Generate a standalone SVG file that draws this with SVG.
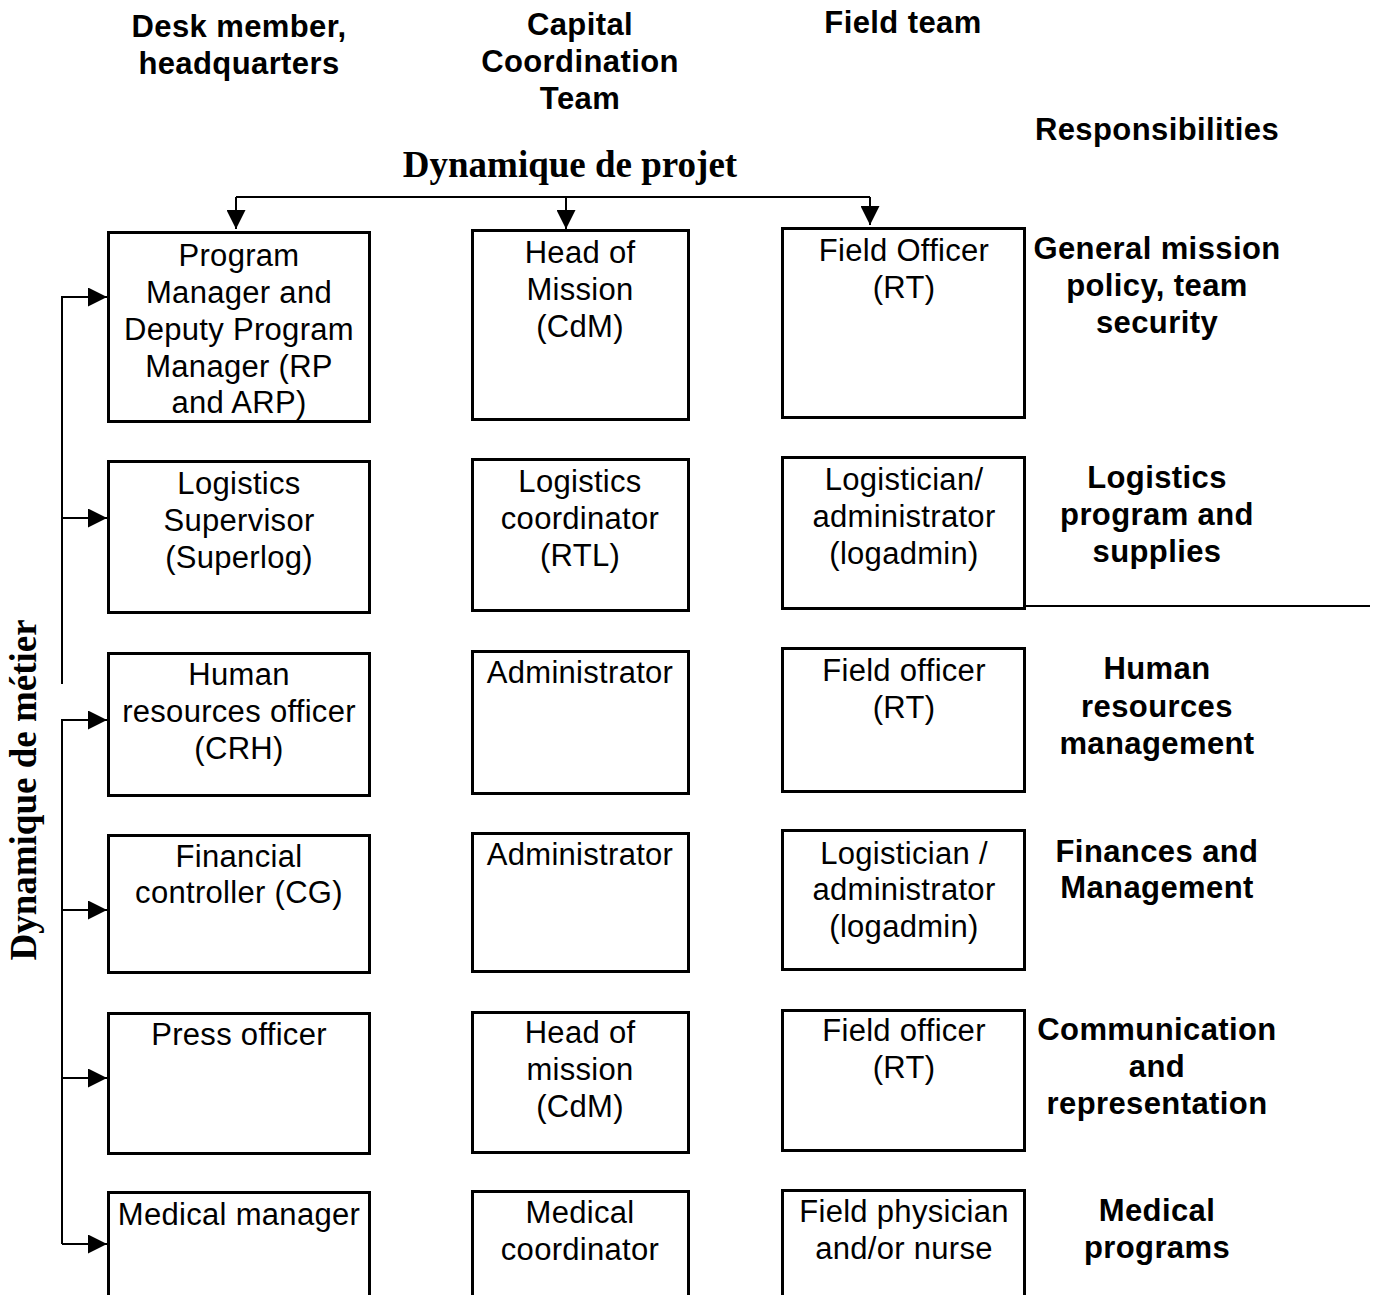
<svg xmlns="http://www.w3.org/2000/svg" width="1375" height="1295" viewBox="0 0 1375 1295">
<style>
.box{fill:#fff;stroke:#000;stroke-width:3}
.t{font-family:"Liberation Sans",Arial,sans-serif;font-size:31px;letter-spacing:0.3px;text-anchor:middle;fill:#000}
.h{font-family:"Liberation Sans",Arial,sans-serif;font-size:31px;letter-spacing:0.4px;font-weight:bold;text-anchor:middle;fill:#000}
.s{font-family:"Liberation Serif","Times New Roman",serif;font-size:37px;font-weight:bold;text-anchor:middle;fill:#000}
.ln{fill:none;stroke:#000;stroke-width:2}
</style>
<defs>
<marker id="ah" viewBox="0 0 10 10" refX="10" refY="5" markerWidth="20" markerHeight="19" markerUnits="userSpaceOnUse" orient="auto">
<path d="M0,0 L10,5 L0,10 z" fill="#000"/>
</marker>
</defs>
<g id="headers">
<text class="h" x="239" y="37">Desk member,</text>
<text class="h" x="239" y="74">headquarters</text>
<text class="h" x="580" y="35">Capital</text>
<text class="h" x="580" y="72">Coordination</text>
<text class="h" x="580" y="109">Team</text>
<text class="h" x="903" y="33">Field team</text>
<text class="h" x="1157" y="140">Responsibilities</text>
<text class="s" x="570" y="177">Dynamique de projet</text>
<text class="s" transform="translate(36,790) rotate(-90)" x="0" y="0">Dynamique de métier</text>
</g>
<g id="connectors">
<path class="ln" d="M236,197 H870"/>
<path class="ln" d="M236,197 V229" marker-end="url(#ah)"/>
<path class="ln" d="M566,197 V229" marker-end="url(#ah)"/>
<path class="ln" d="M870,197 V225" marker-end="url(#ah)"/>
<path class="ln" d="M62,684 V297 H107" marker-end="url(#ah)"/>
<path class="ln" d="M62,518 H107" marker-end="url(#ah)"/>
<path class="ln" d="M62,1244 V720 H107" marker-end="url(#ah)"/>
<path class="ln" d="M62,910 H107" marker-end="url(#ah)"/>
<path class="ln" d="M62,1078 H107" marker-end="url(#ah)"/>
<path class="ln" d="M62,1244 H107" marker-end="url(#ah)"/>
<path class="ln" d="M1025,606 H1370"/>
</g>
<g id="n-rp"><rect class="box" x="108.5" y="232.5" width="261" height="189"/>
<text class="t" x="239" y="266">Program</text><text class="t" x="239" y="303">Manager and</text><text class="t" x="239" y="340">Deputy Program</text><text class="t" x="239" y="377">Manager (RP</text><text class="t" x="239" y="413">and ARP)</text></g>
<g id="n-cdm1"><rect class="box" x="472.5" y="230.5" width="216" height="189"/>
<text class="t" x="580" y="263">Head of</text><text class="t" x="580" y="300">Mission</text><text class="t" x="580" y="337">(CdM)</text></g>
<g id="n-rt1"><rect class="box" x="782.5" y="228.5" width="242" height="189"/>
<text class="t" x="904" y="261">Field Officer</text><text class="t" x="904" y="298">(RT)</text></g>
<g id="r-general"><text class="h" x="1157" y="259">General mission</text><text class="h" x="1157" y="296">policy, team</text><text class="h" x="1157" y="333">security</text></g>

<g id="n-superlog"><rect class="box" x="108.5" y="461.5" width="261" height="151"/>
<text class="t" x="239" y="494">Logistics</text><text class="t" x="239" y="531">Supervisor</text><text class="t" x="239" y="568">(Superlog)</text></g>
<g id="n-rtl"><rect class="box" x="472.5" y="459.5" width="216" height="151"/>
<text class="t" x="580" y="492">Logistics</text><text class="t" x="580" y="529">coordinator</text><text class="t" x="580" y="566">(RTL)</text></g>
<g id="n-logadmin1"><rect class="box" x="782.5" y="457.5" width="242" height="151"/>
<text class="t" x="904" y="490">Logistician/</text><text class="t" x="904" y="527">administrator</text><text class="t" x="904" y="564">(logadmin)</text></g>
<g id="r-logistics"><text class="h" x="1157" y="488">Logistics</text><text class="h" x="1157" y="525">program and</text><text class="h" x="1157" y="562">supplies</text></g>

<g id="n-crh"><rect class="box" x="108.5" y="653.5" width="261" height="142"/>
<text class="t" x="239" y="685">Human</text><text class="t" x="239" y="722">resources officer</text><text class="t" x="239" y="759">(CRH)</text></g>
<g id="n-admin1"><rect class="box" x="472.5" y="651.5" width="216" height="142"/>
<text class="t" x="580" y="683">Administrator</text></g>
<g id="n-rt2"><rect class="box" x="782.5" y="648.5" width="242" height="143"/>
<text class="t" x="904" y="681">Field officer</text><text class="t" x="904" y="718">(RT)</text></g>
<g id="r-hr"><text class="h" x="1157" y="679">Human</text><text class="h" x="1157" y="717">resources</text><text class="h" x="1157" y="754">management</text></g>

<g id="n-cg"><rect class="box" x="108.5" y="835.5" width="261" height="137"/>
<text class="t" x="239" y="867">Financial</text><text class="t" x="239" y="903">controller (CG)</text></g>
<g id="n-admin2"><rect class="box" x="472.5" y="833.5" width="216" height="138"/>
<text class="t" x="580" y="865">Administrator</text></g>
<g id="n-logadmin2"><rect class="box" x="782.5" y="830.5" width="242" height="139"/>
<text class="t" x="904" y="864">Logistician /</text><text class="t" x="904" y="900">administrator</text><text class="t" x="904" y="937">(logadmin)</text></g>
<g id="r-fin"><text class="h" x="1157" y="862">Finances and</text><text class="h" x="1157" y="898">Management</text></g>

<g id="n-press"><rect class="box" x="108.5" y="1013.5" width="261" height="140"/>
<text class="t" x="239" y="1045">Press officer</text></g>
<g id="n-cdm2"><rect class="box" x="472.5" y="1012.5" width="216" height="140"/>
<text class="t" x="580" y="1043">Head of</text><text class="t" x="580" y="1080">mission</text><text class="t" x="580" y="1117">(CdM)</text></g>
<g id="n-rt3"><rect class="box" x="782.5" y="1010.5" width="242" height="140"/>
<text class="t" x="904" y="1041">Field officer</text><text class="t" x="904" y="1078">(RT)</text></g>
<g id="r-comm"><text class="h" x="1157" y="1040">Communication</text><text class="h" x="1157" y="1077">and</text><text class="h" x="1157" y="1114">representation</text></g>

<g id="n-med1"><rect class="box" x="108.5" y="1192.5" width="261" height="120"/>
<text class="t" x="239" y="1225">Medical manager</text></g>
<g id="n-med2"><rect class="box" x="472.5" y="1191.5" width="216" height="120"/>
<text class="t" x="580" y="1223">Medical</text><text class="t" x="580" y="1260">coordinator</text></g>
<g id="n-med3"><rect class="box" x="782.5" y="1190.5" width="242" height="120"/>
<text class="t" x="904" y="1222">Field physician</text><text class="t" x="904" y="1259">and/or nurse</text></g>
<g id="r-med"><text class="h" x="1157" y="1221">Medical</text><text class="h" x="1157" y="1258">programs</text></g>
</svg>
